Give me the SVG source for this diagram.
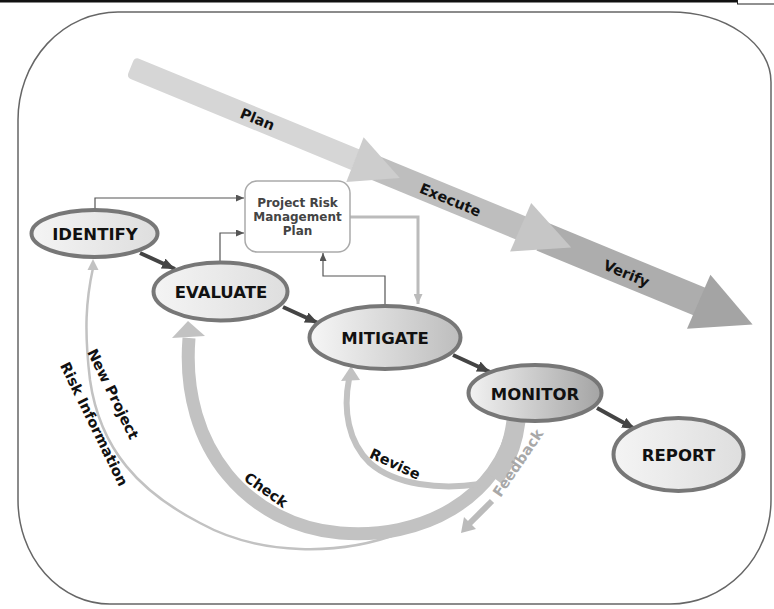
<svg xmlns="http://www.w3.org/2000/svg" width="774" height="609" viewBox="0 0 774 609">
<defs>
<style>
.node{stroke:#777;stroke-width:4}
.nt{font-family:"DejaVu Sans",Verdana,sans-serif;font-weight:bold;font-size:16.5px;fill:#111;text-anchor:middle}
.lt{font-family:"DejaVu Sans",Verdana,sans-serif;font-weight:bold;font-size:14.5px;fill:#111;text-anchor:middle}
.thin{fill:none;stroke:#555;stroke-width:1.2}
.flow{stroke:#444;stroke-width:4;fill:none}
.fb{fill:none;stroke:#c2c2c2;stroke-linecap:butt}
</style>
<marker id="ah" markerUnits="userSpaceOnUse" markerWidth="8" markerHeight="7" refX="8" refY="3.5" orient="auto"><path d="M0,0 L8,3.5 L0,7 z" fill="#555"/></marker>
<marker id="ahl" markerUnits="userSpaceOnUse" markerWidth="10" markerHeight="9" refX="10" refY="4.5" orient="auto"><path d="M0,0 L10,4.5 L0,9 z" fill="#bbb"/></marker>
<marker id="ahd" markerUnits="userSpaceOnUse" markerWidth="13" markerHeight="11" refX="13" refY="5.5" orient="auto"><path d="M0,0 L13,5.5 L0,11 z" fill="#444"/></marker>
<linearGradient id="gLight" x1="0" y1="0" x2="1" y2="0"><stop offset="0" stop-color="#f4f4f4"/><stop offset="1" stop-color="#dedede"/></linearGradient>
<linearGradient id="gMit" x1="0" y1="0" x2="1" y2="0"><stop offset="0" stop-color="#f6f6f6"/><stop offset="1" stop-color="#bdbdbd"/></linearGradient>
<linearGradient id="gMon" x1="0" y1="0" x2="1" y2="0"><stop offset="0" stop-color="#f2f2f2"/><stop offset="1" stop-color="#a4a4a4"/></linearGradient>
</defs>
<rect width="774" height="609" fill="#fff"/>
<rect x="0" y="0" width="774" height="2.5" fill="#111"/>
<rect x="737.5" y="-1" width="40" height="5" fill="#fff" stroke="#222" stroke-width="1"/>
<path d="M118,12 H670 A101,70 0 0 1 771,82 V500 A101,104 0 0 1 670,604 H110 A92,104 0 0 1 18,500 V120 A100,108 0 0 1 118,12 Z" fill="none" stroke="#666" stroke-width="1.5"/>

<g id="phase-arrow" transform="translate(130,69) rotate(22.4)">
<polygon points="445,-17 616,-17 616,13 445,13" fill="#adadad"/>
<polygon points="615,-31 673,-1 614,28" fill="#a4a4a4"/>
<polygon points="262,-14.5 423,-14.5 423,10.5 262,10.5" fill="#bebebe"/>
<polygon points="422,-29 476,-3 421,24" fill="#c6c6c6"/>
<path d="M5,-13 H243 V9 H5 Q0,9 0,4 V-8 Q0,-13 5,-13 Z" fill="#d6d6d6"/>
<polygon points="242,-26 291,-2 243,22" fill="#cdcdcd"/>
<text class="lt" x="137" y="3">Plan</text>
<text class="lt" x="346" y="4">Execute</text>
<text class="lt" x="537" y="5">Verify</text>
</g>

<g id="connectors">
<path class="thin" d="M95,209 V198 H244" marker-end="url(#ah)"/>
<path class="thin" d="M220,261 V233 H244" marker-end="url(#ah)"/>
<path class="thin" d="M385,305 V276 H323 V253" marker-end="url(#ah)"/>
<path d="M350,217 H418 V304" fill="none" stroke="#bbb" stroke-width="3" marker-end="url(#ahl)"/>
<line class="flow" x1="140" y1="253" x2="175" y2="269" marker-end="url(#ahd)"/>
<line class="flow" x1="283" y1="307" x2="318" y2="323" marker-end="url(#ahd)"/>
<line class="flow" x1="453" y1="355" x2="490" y2="372" marker-end="url(#ahd)"/>
<line class="flow" x1="597" y1="408" x2="635" y2="429" marker-end="url(#ahd)"/>
<path class="fb" d="M400,533 C340,556 260,556 200,523 C140,492 100,450 90,380 C84,330 86,300 93,268" stroke-width="2.5"/>
<polygon points="93,259 87.5,270 98.5,270" fill="#c2c2c2"/>
<path class="fb" d="M515,420 C500,500 420,540 340,533 C250,525 180,450 189,338" stroke-width="13"/>
<path class="fb" d="M516,421 C513,445 506,462 494,478" stroke-width="19"/>
<polygon points="188,321 172,338 205,336" fill="#c2c2c2"/>
<path class="fb" d="M480,484 C440,490 395,485 370,463 C348,442 343,410 349,379" stroke-width="6"/>
<polygon points="351,366 341,381 360,380" fill="#c2c2c2"/>
<line x1="492" y1="501" x2="469" y2="524" stroke="#bbb" stroke-width="6"/>
<polygon points="476,529 464,517 461,533" fill="#bbb"/>
<text class="lt" transform="translate(266,490) rotate(35)" y="5">Check</text>
<text class="lt" transform="translate(395,464) rotate(25)" y="5">Revise</text>
<text class="lt" transform="translate(518,463) rotate(-56)" y="5" style="fill:#a8a8a8">Feedback</text>
<text class="lt" transform="translate(113,394) rotate(64)" y="5">New Project</text>
<text class="lt" transform="translate(94,424) rotate(64)" y="5">Risk Information</text>
</g>

<g id="plan-box">
<rect x="245" y="181" width="105" height="71" rx="12" fill="#fff" stroke="#aaa" stroke-width="1.5"/>
<text font-family="DejaVu Sans, Verdana, sans-serif" font-weight="bold" font-size="12" fill="#444" text-anchor="middle"><tspan x="297.5" y="207">Project Risk</tspan><tspan x="297.5" y="221">Management</tspan><tspan x="297.5" y="235">Plan</tspan></text>
</g>
<g id="identify"><ellipse class="node" cx="94.5" cy="233.5" rx="63" ry="23.5" fill="url(#gLight)"/><text class="nt" x="95" y="239.5">IDENTIFY</text></g>
<g id="evaluate"><ellipse class="node" cx="220.5" cy="291.5" rx="67" ry="29" fill="url(#gLight)"/><text class="nt" x="221" y="298">EVALUATE</text></g>
<g id="mitigate"><ellipse class="node" cx="385" cy="337.5" rx="75.5" ry="31.5" fill="url(#gMit)"/><text class="nt" x="385" y="344">MITIGATE</text></g>
<g id="monitor"><ellipse class="node" cx="535" cy="393" rx="66.5" ry="28" fill="url(#gMon)"/><text class="nt" x="535" y="400">MONITOR</text></g>
<g id="report"><ellipse class="node" cx="678.5" cy="454.5" rx="65" ry="36.5" fill="url(#gLight)"/><text class="nt" x="678.5" y="461">REPORT</text></g>
</svg>
